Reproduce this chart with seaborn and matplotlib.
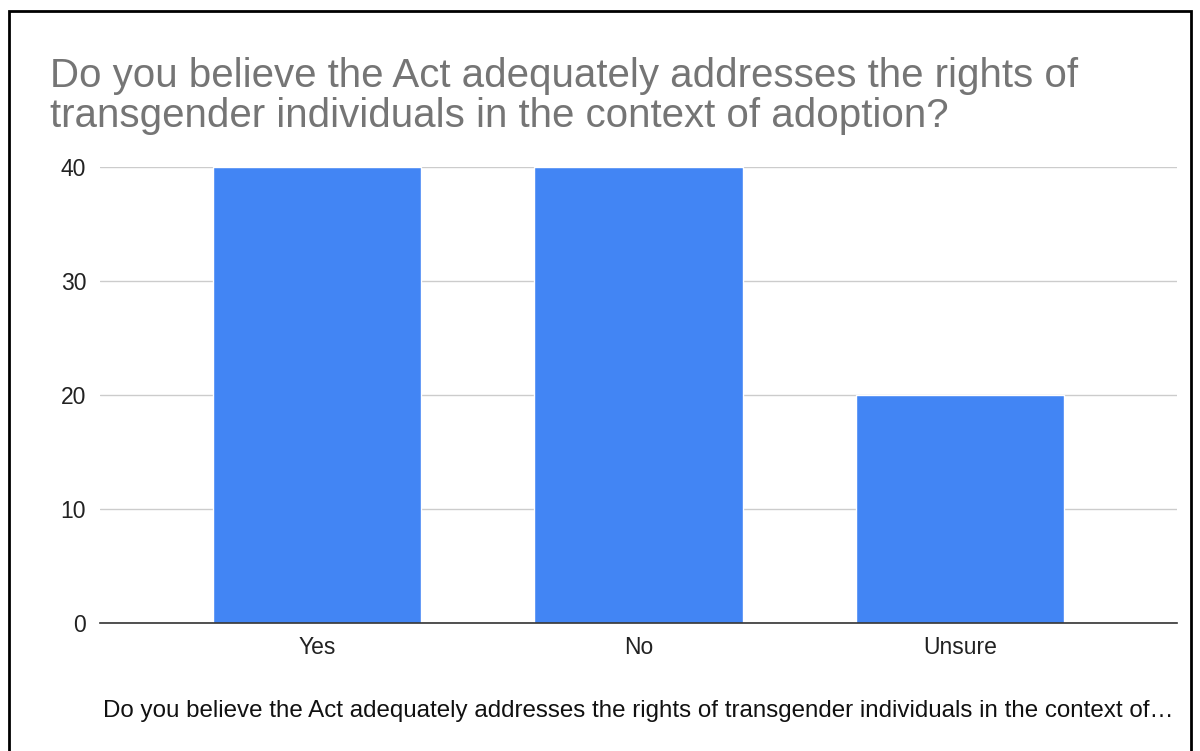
import matplotlib
matplotlib.use("Agg")
import matplotlib.pyplot as plt
import seaborn as sns
import pandas as pd
from matplotlib.patches import Rectangle

categories = ["Yes", "No", "Unsure"]
counts = [40, 40, 20]
yticks = [0, 10, 20, 30, 40]
title = "Do you believe the Act adequately addresses the rights of\ntransgender individuals in the context of adoption?"
xlabel = "Do you believe the Act adequately addresses the rights of transgender individuals in the context of\u2026"

sns.set_theme(style="white")
plt.rcParams['font.family'] = ['Liberation Sans', 'DejaVu Sans']

df = pd.DataFrame({"cat": categories, "n": counts})
fig = plt.figure(figsize=(12, 7.51), dpi=100)
ax = fig.add_axes([100/1200, 1-623/751, 1077/1200, (623-167)/751])
sns.barplot(data=df, x="cat", y="n", color="#4285F4", saturation=1, width=0.65, ax=ax, zorder=3)
ax.set_xlim(-0.675, 2.675)
ax.set_ylim(0, 40)
ax.set_yticks(yticks)
ax.yaxis.grid(True, color="#cccccc", linewidth=1, zorder=0)
ax.set_axisbelow(True)
for s in ["top", "right", "left"]:
    ax.spines[s].set_visible(False)
ax.spines["bottom"].set_color("#333333")
ax.spines["bottom"].set_linewidth(1.2)
ax.spines["bottom"].set_zorder(4)
ax.tick_params(axis="both", length=0, labelsize=16.5, labelcolor="#222222")
ax.tick_params(axis="y", pad=10)
ax.tick_params(axis="x", pad=9)
ax.set_xlabel("")
ax.set_ylabel("")
fig.text(103/1200, 1-711/751, xlabel, fontsize=17.35, color="#111111", va="center", ha="left")
fig.text(50/1200, 1-96/751, title, fontsize=29, color="#757575", va="center", ha="left", linespacing=1.05)
fig.patches.append(Rectangle((9/1200, -0.01), (1191-9)/1200, 1.01-11/751+0.0, transform=fig.transFigure,
                             fill=False, edgecolor="black", linewidth=2, figure=fig))
fig.savefig("out.png", dpi=100, facecolor="white")
